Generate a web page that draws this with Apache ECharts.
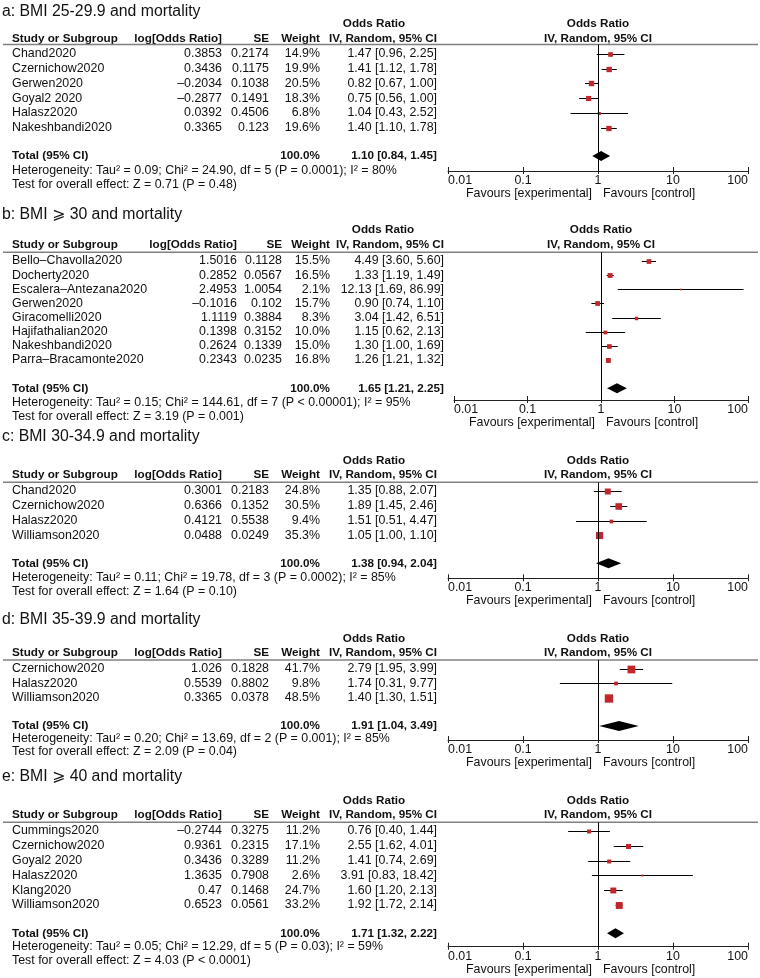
<!DOCTYPE html>
<html>
<head>
<meta charset="utf-8">
<script src="https://cdn.jsdelivr.net/npm/echarts@6/dist/echarts.min.js"></script>
<style>
html,body{margin:0;padding:0;background:#fff;}
#chart{width:760px;height:978px;}
</style>
</head>
<body>
<div id="chart"></div>
<script>
// ---------------- DATA ----------------
// Panel a
const aTitle = "a: BMI 25-29.9 and mortality";
const aStudies = ["Chand2020","Czernichow2020","Gerwen2020","Goyal2 2020","Halasz2020","Nakeshbandi2020"];
const aLogOR = [0.3853,0.3436,-0.2034,-0.2877,0.0392,0.3365];
const aSE = [0.2174,0.1175,0.1038,0.1491,0.4506,0.123];
const aWeight = [14.9,19.9,20.5,18.3,6.8,19.6];
const aOR = [1.47,1.41,0.82,0.75,1.04,1.40];
const aLo = [0.96,1.12,0.67,0.56,0.43,1.10];
const aHi = [2.25,1.78,1.00,1.00,2.52,1.78];
const aTotal = [1.10,0.84,1.45];
const aHet = "Heterogeneity: Tau² = 0.09; Chi² = 24.90, df = 5 (P = 0.0001); I² = 80%";
const aTest = "Test for overall effect: Z = 0.71 (P = 0.48)";

// Panel b
const bTitle = "b: BMI ⩾ 30 and mortality";
const bStudies = ["Bello–Chavolla2020","Docherty2020","Escalera–Antezana2020","Gerwen2020","Giracomelli2020","Hajifathalian2020","Nakeshbandi2020","Parra–Bracamonte2020"];
const bLogOR = [1.5016,0.2852,2.4953,-0.1016,1.1119,0.1398,0.2624,0.2343];
const bSE = [0.1128,0.0567,1.0054,0.102,0.3884,0.3152,0.1339,0.0235];
const bWeight = [15.5,16.5,2.1,15.7,8.3,10.0,15.0,16.8];
const bOR = [4.49,1.33,12.13,0.90,3.04,1.15,1.30,1.26];
const bLo = [3.60,1.19,1.69,0.74,1.42,0.62,1.00,1.21];
const bHi = [5.60,1.49,86.99,1.10,6.51,2.13,1.69,1.32];
const bTotal = [1.65,1.21,2.25];
const bHet = "Heterogeneity: Tau² = 0.15; Chi² = 144.61, df = 7 (P < 0.00001); I² = 95%";
const bTest = "Test for overall effect: Z = 3.19 (P = 0.001)";

// Panel c
const cTitle = "c: BMI 30-34.9 and mortality";
const cStudies = ["Chand2020","Czernichow2020","Halasz2020","Williamson2020"];
const cLogOR = [0.3001,0.6366,0.4121,0.0488];
const cSE = [0.2183,0.1352,0.5538,0.0249];
const cWeight = [24.8,30.5,9.4,35.3];
const cOR = [1.35,1.89,1.51,1.05];
const cLo = [0.88,1.45,0.51,1.00];
const cHi = [2.07,2.46,4.47,1.10];
const cTotal = [1.38,0.94,2.04];
const cHet = "Heterogeneity: Tau² = 0.11; Chi² = 19.78, df = 3 (P = 0.0002); I² = 85%";
const cTest = "Test for overall effect: Z = 1.64 (P = 0.10)";

// Panel d
const dTitle = "d: BMI 35-39.9 and mortality";
const dStudies = ["Czernichow2020","Halasz2020","Williamson2020"];
const dLogOR = [1.026,0.5539,0.3365];
const dSE = [0.1828,0.8802,0.0378];
const dWeight = [41.7,9.8,48.5];
const dOR = [2.79,1.74,1.40];
const dLo = [1.95,0.31,1.30];
const dHi = [3.99,9.77,1.51];
const dTotal = [1.91,1.04,3.49];
const dHet = "Heterogeneity: Tau² = 0.20; Chi² = 13.69, df = 2 (P = 0.001); I² = 85%";
const dTest = "Test for overall effect: Z = 2.09 (P = 0.04)";

// Panel e
const eTitle = "e: BMI ⩾ 40 and mortality";
const eStudies = ["Cummings2020","Czernichow2020","Goyal2 2020","Halasz2020","Klang2020","Williamson2020"];
const eLogOR = [-0.2744,0.9361,0.3436,1.3635,0.47,0.6523];
const eSE = [0.3275,0.2315,0.3289,0.7908,0.1468,0.0561];
const eWeight = [11.2,17.1,11.2,2.6,24.7,33.2];
const eOR = [0.76,2.55,1.41,3.91,1.60,1.92];
const eLo = [0.40,1.62,0.74,0.83,1.20,1.72];
const eHi = [1.44,4.01,2.69,18.42,2.13,2.14];
const eTotal = [1.71,1.32,2.22];
const eHet = "Heterogeneity: Tau² = 0.05; Chi² = 12.29, df = 5 (P = 0.03); I² = 59%";
const eTest = "Test for overall effect: Z = 4.03 (P < 0.0001)";

// Header texts / tick labels
const colHeaders = ["Study or Subgroup","log[Odds Ratio]","SE","Weight","IV, Random, 95% CI"];
const effectName = "Odds Ratio";
const forestHeader = "IV, Random, 95% CI";
const axisTicks = [0.01,0.1,1,10,100];
const favoursLeft = "Favours [experimental]";
const favoursRight = "Favours [control]";
const totalLabel = "Total (95% CI)";

// ---------------- LAYOUT (positions only) ----------------
const colsA = {name:12, logOR:222, se:269, weight:320, or:437, oddsC:374, fL:448, fR:748};
const colsB = {name:12, logOR:237, se:282, weight:330, or:444, oddsC:383, fL:454, fR:748};
const layouts = [
  {cols:colsA, titleY:12,  oddsY:24,  headerY:39,  lineY:44.5, y0:54,  step:14.74, totalY:156,   hetY:171,   testY:185,   axisY:171},
  {cols:colsB, titleY:215, oddsY:230, headerY:245, lineY:252.3,y0:261, step:14.14, totalY:388.3, hetY:403,   testY:417,   axisY:400},
  {cols:colsA, titleY:437, oddsY:461, headerY:475, lineY:482.3,y0:491, step:14.77, totalY:563.3, hetY:578,   testY:592,   axisY:578.3},
  {cols:colsA, titleY:620, oddsY:638.3,headerY:652.3,lineY:660, y0:669, step:14.35, totalY:726,  hetY:738.3, testY:751.7, axisY:740},
  {cols:colsA, titleY:777, oddsY:801, headerY:815, lineY:822.3,y0:831, step:14.8,  totalY:933.3, hetY:946.7, testY:961,   axisY:946.7}
];

const panels = [
  {title:aTitle, studies:aStudies, logOR:aLogOR, se:aSE, weight:aWeight, or:aOR, lo:aLo, hi:aHi, total:aTotal, het:aHet, test:aTest},
  {title:bTitle, studies:bStudies, logOR:bLogOR, se:bSE, weight:bWeight, or:bOR, lo:bLo, hi:bHi, total:bTotal, het:bHet, test:bTest},
  {title:cTitle, studies:cStudies, logOR:cLogOR, se:cSE, weight:cWeight, or:cOR, lo:cLo, hi:cHi, total:cTotal, het:cHet, test:cTest},
  {title:dTitle, studies:dStudies, logOR:dLogOR, se:dSE, weight:dWeight, or:dOR, lo:dLo, hi:dHi, total:dTotal, het:dHet, test:dTest},
  {title:eTitle, studies:eStudies, logOR:eLogOR, se:eSE, weight:eWeight, or:eOR, lo:eLo, hi:eHi, total:eTotal, het:eHet, test:eTest}
];

// ---------------- STYLE ----------------
const FAM = '"Liberation Sans", Arial, "DejaVu Sans", sans-serif';
const FS = 12.4;
const FSB = 11.7;
const fontR = FS + 'px ' + FAM;
const fontB = 'bold ' + FSB + 'px ' + FAM;
const fontT = '15.8px ' + FAM;
const TXT = '#111';
const RED = '#c0272d';

function fmtNum(v){ return String(v).replace('-', '–'); }
function fmtCI(o,l,h){ return o.toFixed(2) + ' [' + l.toFixed(2) + ', ' + h.toFixed(2) + ']'; }

const graphics = [];
function txt(s, x, y, font, align){
  graphics.push({type:'text', x:x, y:y, silent:true,
    style:{text:s, font:font, fill:TXT, align:align||'left', verticalAlign:'middle',
           textAlign:align||'left', textVerticalAlign:'middle'}});
}

const grids=[], xAxes=[], yAxes=[], series=[];

panels.forEach((p, i) => {
  const L = layouts[i], C = L.cols;
  const rowY = r => L.y0 + r * L.step;
  const fC = (C.fL + C.fR) / 2;
  // texts
  txt(p.title, 2, L.titleY, fontT, 'left');
  txt(effectName, C.oddsC, L.oddsY, fontB, 'center');
  txt(effectName, fC, L.oddsY, fontB, 'center');
  txt(colHeaders[0], C.name, L.headerY, fontB, 'left');
  txt(colHeaders[1], C.logOR, L.headerY, fontB, 'right');
  txt(colHeaders[2], C.se, L.headerY, fontB, 'right');
  txt(colHeaders[3], C.weight, L.headerY, fontB, 'right');
  txt(colHeaders[4], C.or, L.headerY, fontB, 'right');
  txt(forestHeader, fC, L.headerY, fontB, 'center');
  graphics.push({type:'line', silent:true, shape:{x1:3, y1:L.lineY, x2:758, y2:L.lineY},
    style:{stroke:'#808080', lineWidth:1.5}});
  p.studies.forEach((s, r) => {
    const y = rowY(r);
    txt(s, C.name, y, fontR, 'left');
    txt(fmtNum(p.logOR[r]), C.logOR, y, fontR, 'right');
    txt(fmtNum(p.se[r]), C.se, y, fontR, 'right');
    txt(p.weight[r].toFixed(1) + '%', C.weight, y, fontR, 'right');
    txt(fmtCI(p.or[r], p.lo[r], p.hi[r]), C.or, y, fontR, 'right');
  });
  txt(totalLabel, C.name, L.totalY, fontB, 'left');
  txt('100.0%', C.weight, L.totalY, fontB, 'right');
  txt(fmtCI(p.total[0], p.total[1], p.total[2]), C.or, L.totalY, fontB, 'right');
  txt(p.het, C.name, L.hetY, fontR, 'left');
  txt(p.test, C.name, L.testY, fontR, 'left');
  txt(favoursLeft, fC - 6, L.axisY + 22.5, fontR, 'right');
  txt(favoursRight, fC + 5, L.axisY + 22.5, fontR, 'left');

  // forest grid
  grids.push({left:C.fL, width:C.fR - C.fL, top:L.lineY, height:L.axisY - L.lineY, containLabel:false});
  const yMin = (L.lineY - L.y0) / L.step, yMax = (L.axisY - L.y0) / L.step;
  yAxes.push({type:'value', gridIndex:i, inverse:true, min:yMin, max:yMax, show:false});
  xAxes.push({type:'log', logBase:10, gridIndex:i, min:axisTicks[0], max:axisTicks[axisTicks.length-1],
    position:'bottom',
    axisLine:{show:true, onZero:false, lineStyle:{color:'#222', width:1}},
    axisTick:{show:true, inside:false, length:3, lineStyle:{color:'#222', width:1}},
    axisLabel:{show:true, margin:3.5, color:TXT, fontSize:FS, fontFamily:FAM,
      alignMinLabel:'left', alignMaxLabel:'right',
      formatter: v => String(+v.toPrecision(6))},
    splitLine:{show:false}});
  xAxes.push({type:'log', logBase:10, gridIndex:i, min:axisTicks[0], max:axisTicks[axisTicks.length-1],
    position:'bottom', offset:0,
    axisLine:{show:false, onZero:false},
    axisTick:{show:true, inside:true, length:4, lineStyle:{color:'#222', width:1}},
    axisLabel:{show:false}, splitLine:{show:false}});

  const studyData = p.studies.map((s, r) => [p.lo[r], p.hi[r], p.or[r], p.weight[r], r]);
  series.push({
    type:'custom', xAxisIndex:2*i, yAxisIndex:i, silent:true, clip:false,
    encode:{x:[0,1,2], y:4},
    data:studyData,
    renderItem:(params, api) => {
      const lo = api.value(0), hi = api.value(1), o = api.value(2), w = api.value(3), r = api.value(4);
      const p1 = api.coord([lo, r]), p2 = api.coord([hi, r]), pc = api.coord([o, r]);
      const yy = Math.round(p1[1]) + 0.5;
      const sz = 1.2 * Math.sqrt(w);
      return {type:'group', children:[
        {type:'line', shape:{x1:p1[0], y1:yy, x2:p2[0], y2:yy}, style:{stroke:'#000', lineWidth:1}},
        {type:'rect', shape:{x:pc[0]-sz/2, y:yy-sz/2, width:sz, height:sz}, style:{fill:RED}}
      ]};
    },
    markLine:{silent:true, symbol:['none','none'], label:{show:false},
      lineStyle:{color:'#000', width:1, type:'solid'},
      data:[{xAxis:1}]}
  });
  const totalRow = (L.totalY - L.y0) / L.step;
  series.push({
    type:'custom', xAxisIndex:2*i, yAxisIndex:i, silent:true, clip:false,
    encode:{x:[0,1,2], y:3},
    data:[[p.total[0], p.total[1], p.total[2], totalRow]],
    renderItem:(params, api) => {
      const est = api.coord([api.value(0), api.value(3)]);
      const lo = api.coord([api.value(1), api.value(3)]);
      const hi = api.coord([api.value(2), api.value(3)]);
      const h = 5;
      return {type:'polygon', shape:{points:[[lo[0], lo[1]], [est[0], est[1]-h], [hi[0], hi[1]], [est[0], est[1]+h]]},
        style:{fill:'#000'}};
    }
  });
});

const chart = echarts.init(document.getElementById('chart'), null, {renderer:'canvas'});
chart.setOption({
  backgroundColor:'#fff',
  animation:false,
  grid:grids, xAxis:xAxes, yAxis:yAxes, series:series,
  graphic:{elements:graphics}
});
</script>
</body>
</html>
